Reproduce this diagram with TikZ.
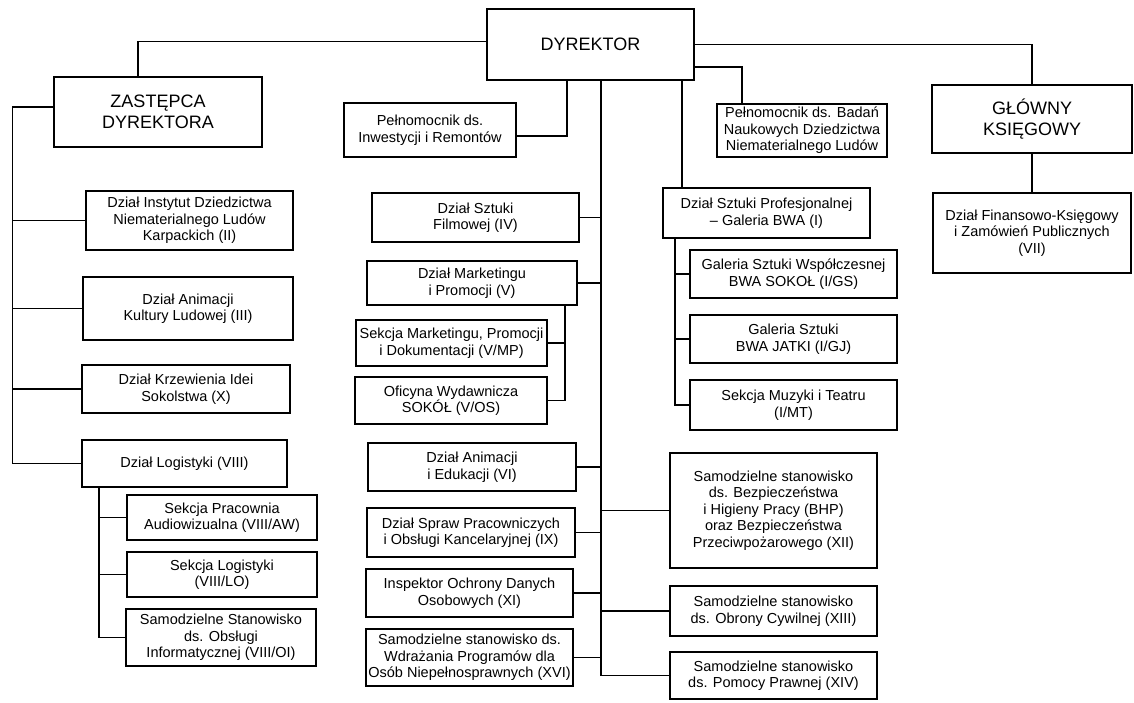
\documentclass[tikz,border=0pt]{standalone}
\usepackage{fontspec}
\setmainfont{Liberation Sans}
\newcommand\orgbox[7]{\node[#1, minimum width={(#5-#3)*1pt}, minimum height={(#6-#4)*1pt}] (#2) at ({(#3+#5)/2},{(#4+#6)/2}) {#7};}
\begin{document}
\begin{tikzpicture}[x=1pt,y=-1pt,
  box/.style={draw, line width=1.3pt, align=center, inner sep=1pt, font=\fontsize{14.5}{16.5}\selectfont},
  bigbox/.style={box, font=\fontsize{18}{21}\selectfont},
  conn/.style={line width=1.7pt}]
\useasboundingbox[fill=white] (0,0) rectangle (1134,702);
% top level
\orgbox{bigbox}{dyr}{487}{9}{694}{80}{DYREKTOR}
\orgbox{bigbox}{zast}{54}{77}{262}{147}{ZASTĘPCA\\DYREKTORA}
\orgbox{bigbox}{gk}{932}{85}{1132}{153}{GŁÓWNY\\KSIĘGOWY}
\orgbox{box}{pi}{344}{103}{516}{157}{Pełnomocnik ds.\\Inwestycji i Remontów}
\orgbox{box}{pb}{717}{104}{887}{157}{Pełnomocnik ds. Badań\\Naukowych Dziedzictwa\\Niematerialnego Ludów}
% left column
\orgbox{box}{di}{86}{191}{293}{250}{Dział Instytut Dziedzictwa\\Niematerialnego Ludów\\Karpackich (II)}
\orgbox{box}{dak}{83}{277}{293}{340}{Dział Animacji\\Kultury Ludowej (III)}
\orgbox{box}{dk}{82}{365}{290}{413}{Dział Krzewienia Idei\\Sokolstwa (X)}
\orgbox{box}{dl}{82}{440}{287}{487}{Dział Logistyki (VIII)}
\orgbox{box}{spa}{127}{495}{317}{540}{Sekcja Pracownia\\Audiowizualna (VIII/AW)}
\orgbox{box}{sl}{127}{552}{317}{597}{Sekcja Logistyki\\(VIII/LO)}
\orgbox{box}{so}{126}{609}{316}{666}{Samodzielne Stanowisko\\ds. Obsługi\\Informatycznej (VIII/OI)}
% middle column
\orgbox{box}{sf}{372}{193}{579}{242}{Dział Sztuki\\Filmowej (IV)}
\orgbox{box}{dm}{367}{261}{577}{305}{Dział Marketingu\\i Promocji (V)}
\orgbox{box}{smp}{356}{320}{547}{366}{Sekcja Marketingu, Promocji\\i Dokumentacji (V/MP)}
\orgbox{box}{ofi}{355}{377}{547}{424}{Oficyna Wydawnicza\\SOKÓŁ (V/OS)}
\orgbox{box}{dae}{368}{443}{576}{491}{Dział Animacji\\i Edukacji (VI)}
\orgbox{box}{dsp}{367}{508}{575}{557}{Dział Spraw Pracowniczych\\i Obsługi Kancelaryjnej (IX)}
\orgbox{box}{iod}{366}{569}{573}{617}{Inspektor Ochrony Danych\\Osobowych (XI)}
\orgbox{box}{wdr}{366}{629}{573}{686}{Samodzielne stanowisko ds.\\Wdrażania Programów dla\\Osób Niepełnosprawnych (XVI)}
% right-middle column
\orgbox{box}{sp}{663}{188}{870}{238}{Dział Sztuki Profesjonalnej\\– Galeria BWA (I)}
\orgbox{box}{gsw}{690}{250}{897}{298}{Galeria Sztuki Współczesnej\\BWA SOKOŁ (I/GS)}
\orgbox{box}{gsj}{690}{315}{897}{363}{Galeria Sztuki\\BWA JATKI (I/GJ)}
\orgbox{box}{muz}{690}{380}{897}{430}{Sekcja Muzyki i Teatru\\(I/MT)}
\orgbox{box}{bhp}{670}{453}{877}{568}{Samodzielne stanowisko\\ds. Bezpieczeństwa\\i Higieny Pracy (BHP)\\oraz Bezpieczeństwa\\Przeciwpożarowego (XII)}
\orgbox{box}{obr}{670}{586}{877}{636}{Samodzielne stanowisko\\ds. Obrony Cywilnej (XIII)}
\orgbox{box}{pp}{670}{652}{877}{699}{Samodzielne stanowisko\\ds. Pomocy Prawnej (XIV)}
% far right
\orgbox{box}{fk}{933}{193}{1131}{273}{Dział Finansowo-Księgowy\\i Zamówień Publicznych\\(VII)}
% helper coordinates
\coordinate (mv) at ([xshift=10.5pt]dyr.south);
\coordinate (rv) at ([xshift=91.5pt]dyr.south);
\coordinate (lv) at ([xshift=-41pt]zast.west);
\coordinate (lsv) at ([xshift=-85.5pt]dl.south);
\coordinate (msv) at ([xshift=93pt]dm.south);
\coordinate (ssv) at ([xshift=-91.5pt]sp.south);
% connectors
\draw[conn] ([yshift=3pt]dyr.west) -| ([xshift=-20pt]zast.north);
\draw[conn] (dyr.east) -| (gk.north);
\draw[conn] ([yshift=-22.5pt]dyr.east) -| ([xshift=-60pt]pb.north);
\draw[conn] ([xshift=-23.5pt]dyr.south) |- ([yshift=-6pt]pi.east);
\draw[conn] (gk.south) -- (fk.north);
% left column
\draw[conn] ([yshift=5pt]zast.west) -- ([yshift=5pt]lv) |- (dl.west);
\foreach \n in {di,dak,dk} \draw[conn] (\n.west) -- (\n.west -| lv);
\draw[conn] (lsv) |- (so.west);
\foreach \n in {spa,sl} \draw[conn] (\n.west) -- (\n.west -| lsv);
% main vertical
\draw[conn] (mv) |- (pp.west);
\foreach \n in {sf,dm,dae,dsp,iod,wdr} \draw[conn] (\n.east) -- (\n.east -| mv);
\foreach \n in {bhp,obr} \draw[conn] (\n.west) -- (\n.west -| mv);
\draw[conn] (msv) |- (ofi.east);
\draw[conn] (smp.east) -- (smp.east -| msv);
% right vertical
\draw[conn] (rv) -- (rv |- sp.north);
\draw[conn] (ssv) |- (muz.west);
\foreach \n in {gsw,gsj} \draw[conn] (\n.west) -- (\n.west -| ssv);
\end{tikzpicture}
\end{document}
